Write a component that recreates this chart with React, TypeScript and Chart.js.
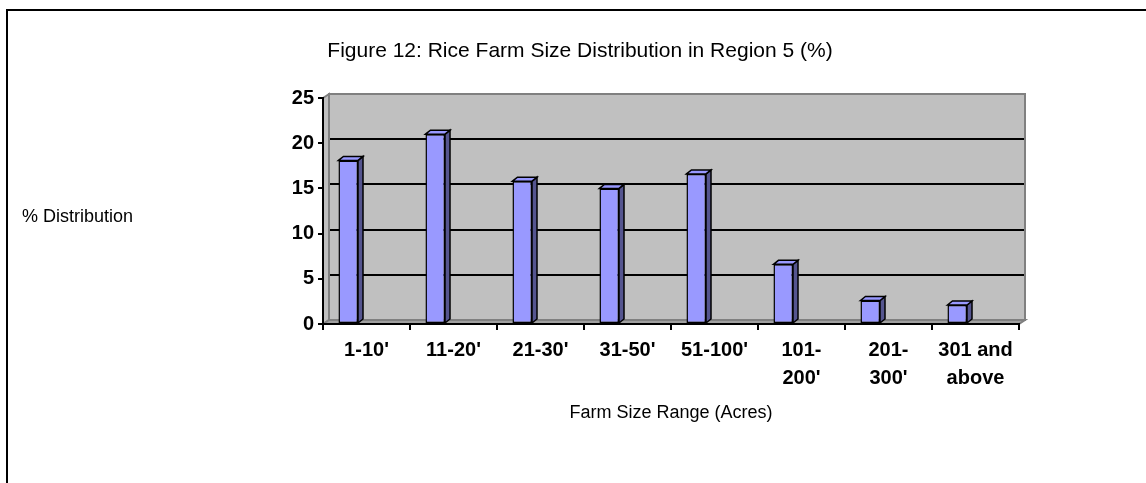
import React, { useEffect, useRef } from "react";
import { Chart, registerables } from "chart.js";

Chart.register(...registerables);

// ---- data ----
const categories: (string | string[])[] = [
  "1-10'",
  "11-20'",
  "21-30'",
  "31-50'",
  "51-100'",
  ["101-", "200'"],
  ["201-", "300'"],
  ["301 and", "above"],
];
const farmShare = [18.1, 21.0, 15.8, 15.0, 16.6, 6.6, 2.6, 2.1];
// empty depth slot that keeps the bars at the front-left of each category (as in the 3-D original)
const depthSlot = [null, null, null, null, null, null, null, null];
const yTickValues = [0, 5, 10, 15, 20, 25];

const titleText = "Figure 12: Rice Farm Size Distribution in Region 5 (%)";
const yAxisLabel = "% Distribution";
const xAxisLabel = "Farm Size Range (Acres)";

const FONT = "'Liberation Sans', Arial, Helvetica, sans-serif";

// 3-D look
const WALL_DX = 6;
const WALL_DY = 4;
const BAR_DX = 5;
const BAR_DY = 4;

const decorPlugin = {
  id: "decor3d",
  beforeDraw(chart: any) {
    const { ctx, chartArea: a, scales } = chart;
    const y = scales.y;
    const L = a.left,
      R = a.right,
      T = a.top,
      B = a.bottom;
    ctx.save();
    // outer frame (top + left edges)
    ctx.fillStyle = "#000";
    ctx.fillRect(6, 9, chart.width - 6, 2);
    ctx.fillRect(6, 9, 2, chart.height - 9);

    ctx.lineWidth = 2;
    ctx.strokeStyle = "#808080";
    ctx.lineJoin = "miter";
    // left side wall
    ctx.fillStyle = "#C0C0C0";
    ctx.beginPath();
    ctx.moveTo(L, T);
    ctx.lineTo(L + WALL_DX, T - WALL_DY);
    ctx.lineTo(L + WALL_DX, B - WALL_DY);
    ctx.lineTo(L, B);
    ctx.closePath();
    ctx.fill();
    ctx.stroke();
    // back wall
    ctx.beginPath();
    ctx.rect(L + WALL_DX, T - WALL_DY, R - L, B - T);
    ctx.fill();
    ctx.stroke();
    // floor
    ctx.fillStyle = "#A0A0A0";
    ctx.beginPath();
    ctx.moveTo(L, B);
    ctx.lineTo(L + WALL_DX, B - WALL_DY);
    ctx.lineTo(R + WALL_DX, B - WALL_DY);
    ctx.lineTo(R, B);
    ctx.closePath();
    ctx.fill();
    ctx.stroke();
    // gridlines on the back wall
    ctx.strokeStyle = "#000";
    ctx.lineWidth = 2;
    yTickValues.forEach((v) => {
      if (v === yTickValues[0] || v === yTickValues[yTickValues.length - 1]) return;
      const py = Math.round(y.getPixelForValue(v) - WALL_DY);
      ctx.beginPath();
      ctx.moveTo(L + WALL_DX + 1, py);
      ctx.lineTo(R + WALL_DX - 1, py);
      ctx.stroke();
    });

    // texts
    ctx.fillStyle = "#000";
    ctx.textBaseline = "alphabetic";
    ctx.font = `21px ${FONT}`;
    ctx.textAlign = "center";
    ctx.fillText(titleText, 580, 57);
    ctx.font = `18px ${FONT}`;
    ctx.textAlign = "left";
    ctx.fillText(yAxisLabel, 22, 222);
    ctx.restore();
  },
  afterDatasetsDraw(chart: any) {
    const { ctx } = chart;
    const meta = chart.getDatasetMeta(0);
    ctx.save();
    ctx.lineWidth = 1.5;
    ctx.strokeStyle = "#000";
    ctx.lineJoin = "miter";
    meta.data.forEach((bar: any) => {
      const { x, y, base, width } = bar.getProps(["x", "y", "base", "width"], true);
      const l = x - width / 2;
      const r = x + width / 2;
      // side face
      ctx.fillStyle = "#55558F";
      ctx.beginPath();
      ctx.moveTo(r, y);
      ctx.lineTo(r + BAR_DX, y - BAR_DY);
      ctx.lineTo(r + BAR_DX, base - BAR_DY);
      ctx.lineTo(r, base);
      ctx.closePath();
      ctx.fill();
      ctx.stroke();
      // top face
      ctx.fillStyle = "#9999FF";
      ctx.beginPath();
      ctx.moveTo(l, y);
      ctx.lineTo(l + BAR_DX, y - BAR_DY);
      ctx.lineTo(r + BAR_DX, y - BAR_DY);
      ctx.lineTo(r, y);
      ctx.closePath();
      ctx.fill();
      ctx.stroke();
    });
    ctx.restore();
  },
};

export default function App() {
  const canvasRef = useRef<HTMLCanvasElement | null>(null);

  useEffect(() => {
    if (!canvasRef.current) return;
    const chart = new Chart(canvasRef.current, {
      type: "bar",
      data: {
        labels: categories as any,
        datasets: [
          {
            label: "% Distribution",
            data: farmShare,
            backgroundColor: "#9999FF",
            borderColor: "#000",
            borderWidth: 1.5,
            borderSkipped: false,
            categoryPercentage: 0.84,
            barPercentage: 0.535,
          },
          {
            label: "",
            data: depthSlot as any,
            backgroundColor: "rgba(0,0,0,0)",
            borderWidth: 0,
            categoryPercentage: 0.84,
            barPercentage: 0.535,
          },
        ],
      },
      options: {
        animation: false,
        responsive: true,
        maintainAspectRatio: false,
        layout: { padding: { left: 0, top: 98, right: 127, bottom: 0 } },
        plugins: {
          legend: { display: false },
          tooltip: { enabled: false },
          title: { display: false },
        },
        scales: {
          x: {
            offset: true,
            grid: {
              offset: true,
              display: true,
              drawOnChartArea: false,
              drawTicks: true,
              tickLength: 6,
              color: "#000",
              lineWidth: 2,
            },
            border: { display: true, color: "#000", width: 2 },
            ticks: {
              color: "#000",
              font: { family: FONT, size: 20, weight: "bold", lineHeight: 1.4 },
              padding: 6,
              autoSkip: false,
              maxRotation: 0,
              minRotation: 0,
            },
            title: {
              display: true,
              text: xAxisLabel,
              color: "#000",
              font: { family: FONT, size: 18, lineHeight: 1.2 },
              padding: { top: 0, bottom: 59 },
            },
            afterFit: (scale: any) => {
              scale.height = 159;
            },
          },
          y: {
            min: 0,
            max: 25,
            afterBuildTicks: (scale: any) => {
              scale.ticks = yTickValues.map((v) => ({ value: v }));
            },
            grid: {
              display: true,
              drawOnChartArea: false,
              drawTicks: true,
              tickLength: 5,
              color: "#000",
              lineWidth: 2,
            },
            border: { display: true, color: "#000", width: 2 },
            ticks: {
              color: "#000",
              font: { family: FONT, size: 20, weight: "bold" },
              padding: 4,
            },
            afterFit: (scale: any) => {
              scale.width = 323;
            },
          },
        },
      },
      plugins: [decorPlugin],
    });
    return () => chart.destroy();
  }, []);

  return (
    <div style={{ position: "fixed", left: 0, top: 0, width: 1146, height: 483, background: "#fff" }}>
      <canvas ref={canvasRef} />
    </div>
  );
}
